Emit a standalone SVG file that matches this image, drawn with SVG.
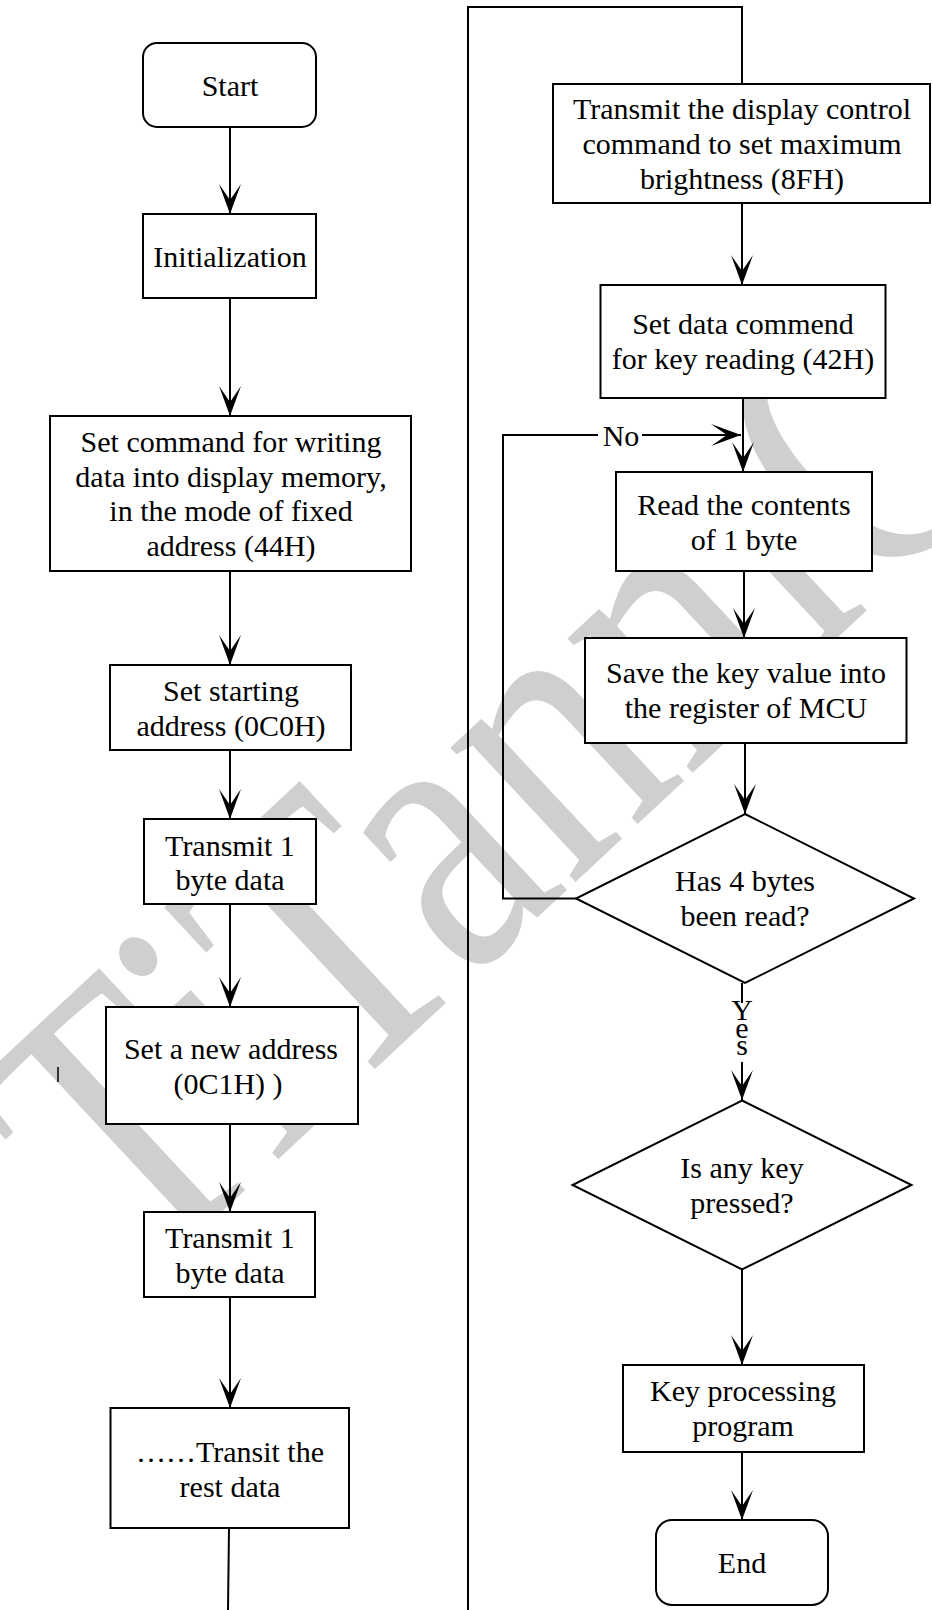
<svg xmlns="http://www.w3.org/2000/svg" width="932" height="1610" viewBox="0 0 932 1610">
<style>
.box{fill:#fff;stroke:#000;stroke-width:2}
.ln{fill:none;stroke:#000;stroke-width:2}
.t{font-family:"Liberation Serif","Times New Roman",serif;font-size:30px;fill:#000;text-anchor:middle}
.wm{font-family:"Liberation Serif","Times New Roman",serif;font-size:400px;fill:#cfcfcf}
</style>
<defs>
<marker id="arr" markerUnits="userSpaceOnUse" markerWidth="34" markerHeight="26" viewBox="0 0 34 26" refX="32" refY="13" orient="auto">
<path d="M32,13 L2,2 L18,13 L2,24 Z" fill="#000"/>
</marker>
</defs>
<rect width="932" height="1610" fill="#fff"/>
<g id="watermark">
<text class="wm" transform="translate(138,1290) rotate(-43)" textLength="1216" lengthAdjust="spacingAndGlyphs">TiTanmC</text>
</g>
<g id="connectors">
<line class="ln" x1="230" y1="127" x2="230" y2="214" marker-end="url(#arr)"/>
<line class="ln" x1="230" y1="298" x2="230" y2="416" marker-end="url(#arr)"/>
<line class="ln" x1="230" y1="571" x2="230" y2="665" marker-end="url(#arr)"/>
<line class="ln" x1="230" y1="750" x2="230" y2="819" marker-end="url(#arr)"/>
<line class="ln" x1="230" y1="904" x2="230" y2="1007" marker-end="url(#arr)"/>
<line class="ln" x1="230" y1="1124" x2="230" y2="1212" marker-end="url(#arr)"/>
<line class="ln" x1="230" y1="1297" x2="230" y2="1408" marker-end="url(#arr)"/>
<line class="ln" x1="229" y1="1528" x2="228" y2="1610"/>
<polyline class="ln" points="468,1610 468,7 742,7 742,84"/>
<line class="ln" x1="742" y1="203" x2="742" y2="285" marker-end="url(#arr)"/>
<line class="ln" x1="743" y1="398" x2="743" y2="472" marker-end="url(#arr)"/>
<line class="ln" x1="744" y1="571" x2="744" y2="638" marker-end="url(#arr)"/>
<line class="ln" x1="745" y1="743" x2="745" y2="814" marker-end="url(#arr)"/>
<polyline class="ln" points="576,898.5 503,898.5 503,435 598,435"/>
<line class="ln" x1="642" y1="435" x2="741" y2="435" marker-end="url(#arr)"/>
<text class="t" x="621" y="446">No</text>
<line class="ln" x1="742" y1="983" x2="742" y2="1003"/>
<line class="ln" x1="742" y1="1062" x2="742" y2="1100" marker-end="url(#arr)"/>
<text class="t"><tspan x="742" y="1020">Y</tspan><tspan x="742" y="1038">e</tspan><tspan x="742" y="1055">s</tspan></text>
<line class="ln" x1="742" y1="1269.5" x2="742" y2="1365" marker-end="url(#arr)"/>
<line class="ln" x1="742" y1="1452" x2="742" y2="1520" marker-end="url(#arr)"/>
<line class="ln" x1="58" y1="1067" x2="58" y2="1082" style="stroke-width:1.5"/>
</g>
<g id="start">
<rect class="box" x="143" y="43" width="173" height="84" rx="14"/>
<text class="t" x="230" y="96">Start</text>
</g>
<g id="init">
<rect class="box" x="143" y="214" width="173" height="84"/>
<text class="t" x="230" y="267">Initialization</text>
</g>
<g id="setcmd">
<rect class="box" x="50" y="416" width="361" height="155"/>
<text class="t" x="231" y="452">Set command for writing</text>
<text class="t" x="231" y="487">data into display memory,</text>
<text class="t" x="231" y="521">in the mode of fixed</text>
<text class="t" x="231" y="556">address (44H)</text>
</g>
<g id="setstart">
<rect class="box" x="110" y="665" width="241" height="85"/>
<text class="t" x="231" y="701">Set starting</text>
<text class="t" x="231" y="736">address (0C0H)</text>
</g>
<g id="trans1">
<rect class="box" x="144" y="819" width="172" height="85"/>
<text class="t" x="230" y="855.5">Transmit 1</text>
<text class="t" x="230" y="890">byte data</text>
</g>
<g id="newaddr">
<rect class="box" x="106" y="1007" width="252" height="117"/>
<text class="t" x="231" y="1059">Set a new address</text>
<text class="t" x="228" y="1094">(0C1H) )</text>
</g>
<g id="trans2">
<rect class="box" x="144" y="1212" width="171" height="85"/>
<text class="t" x="230" y="1248">Transmit 1</text>
<text class="t" x="230" y="1283">byte data</text>
</g>
<g id="rest">
<rect class="box" x="110.5" y="1408" width="238.5" height="120"/>
<text class="t" x="230" y="1461.5">……Transit the</text>
<text class="t" x="230" y="1496.5">rest data</text>
</g>
<g id="dispctrl">
<rect class="box" x="553" y="84" width="377" height="119"/>
<text class="t" x="742" y="118.5">Transmit the display control</text>
<text class="t" x="742" y="154">command to set maximum</text>
<text class="t" x="742" y="189">brightness (8FH)</text>
</g>
<g id="setdata">
<rect class="box" x="600.5" y="285" width="285" height="113"/>
<text class="t" x="743" y="334">Set data commend</text>
<text class="t" x="743" y="369">for key reading (42H)</text>
</g>
<g id="read">
<rect class="box" x="616" y="472" width="256" height="99"/>
<text class="t" x="744" y="514.5">Read the contents</text>
<text class="t" x="744" y="549.5">of 1 byte</text>
</g>
<g id="save">
<rect class="box" x="585" y="638" width="321.5" height="105"/>
<text class="t" x="746" y="683">Save the key value into</text>
<text class="t" x="746" y="718">the register of MCU</text>
</g>
<g id="has4">
<polygon class="box" points="745,814 914,898.5 745,983 576,898.5"/>
<text class="t" x="745" y="891">Has 4 bytes</text>
<text class="t" x="745" y="926">been read?</text>
</g>
<g id="anykey">
<polygon class="box" points="742,1100.5 911.5,1185 742,1269.5 572.5,1185"/>
<text class="t" x="742" y="1178">Is any key</text>
<text class="t" x="742" y="1213">pressed?</text>
</g>
<g id="keyproc">
<rect class="box" x="623" y="1365" width="241" height="87"/>
<text class="t" x="743" y="1401">Key processing</text>
<text class="t" x="743" y="1436">program</text>
</g>
<g id="end">
<rect class="box" x="656" y="1520" width="172" height="85" rx="16"/>
<text class="t" x="742" y="1573">End</text>
</g>
</svg>
